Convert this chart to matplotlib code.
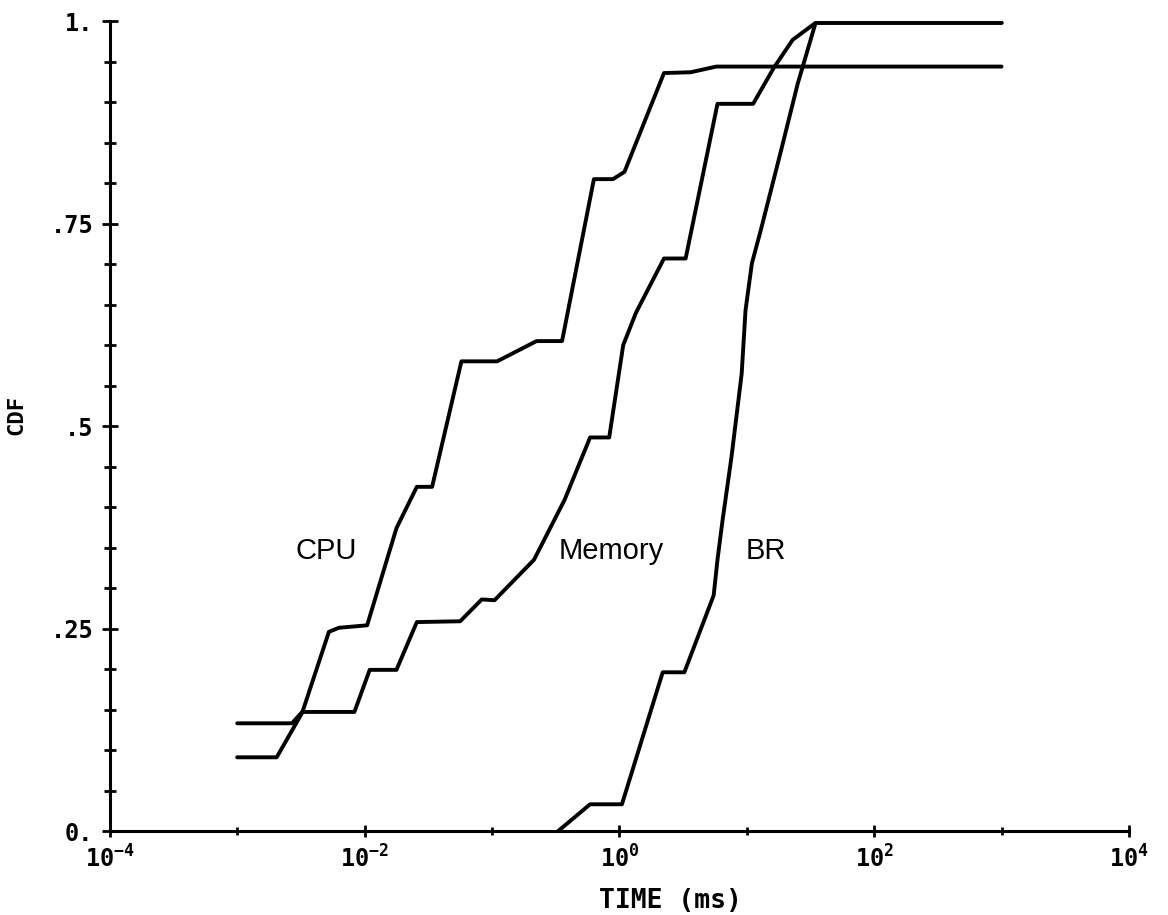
import numpy as np
import matplotlib.pyplot as plt
from matplotlib.ticker import FixedLocator, NullFormatter

plt.rcParams['mathtext.fontset'] = 'custom'
plt.rcParams['mathtext.rm'] = 'DejaVu Sans Mono:bold'
plt.rcParams['mathtext.it'] = 'DejaVu Sans Mono:bold'
plt.rcParams['mathtext.bf'] = 'DejaVu Sans Mono:bold'

# curves: log10(time in ms) and CDF
cpu_log_t = [-3.0, -2.69, -2.49, -2.28, -2.20, -1.98, -1.75, -1.59, -1.47, -1.24,
             -0.96, -0.65, -0.45, -0.20, -0.05, 0.04, 0.35, 0.56, 0.76, 3.0]
cpu_cdf = [0.091, 0.091, 0.146, 0.246, 0.251, 0.254, 0.374, 0.425, 0.425, 0.580,
           0.580, 0.605, 0.605, 0.805, 0.805, 0.814, 0.936, 0.937, 0.944, 0.944]

mem_log_t = [-3.0, -2.57, -2.49, -2.08, -1.96, -1.75, -1.59, -1.25, -1.08, -0.98,
             -0.67, -0.43, -0.23, -0.08, 0.03, 0.13, 0.35, 0.52, 0.77, 1.05, 1.21,
             1.36, 1.54, 3.0]
mem_cdf = [0.133, 0.133, 0.147, 0.147, 0.199, 0.199, 0.258, 0.259, 0.286, 0.285,
           0.335, 0.409, 0.486, 0.486, 0.600, 0.640, 0.707, 0.707, 0.898, 0.898, 0.942,
           0.977, 0.998, 0.998]

br_log_t = [-0.48, -0.23, 0.02, 0.34, 0.51, 0.74, 0.77, 0.81, 0.88, 0.96,
            0.99, 1.04, 1.11, 1.27, 1.40, 1.54, 3.0]
br_cdf = [0.0, 0.033, 0.033, 0.196, 0.196, 0.291, 0.335, 0.384, 0.462, 0.565,
          0.643, 0.701, 0.742, 0.841, 0.923, 0.998, 0.998]

labels = ['CPU', 'Memory', 'BR']
label_log_t = [-2.544, -0.48, 0.994]
label_cdf = [0.336, 0.336, 0.336]

x_major = [1e-4, 1e-2, 1e0, 1e2, 1e4]
x_major_labels = ['$10^{-4}$', '$10^{-2}$', '$10^{0}$', '$10^{2}$', '$10^{4}$']
x_minor = [1e-3, 1e-1, 1e1, 1e3]
y_major = [0, 0.25, 0.5, 0.75, 1.0]
y_major_labels = ['0.', '.25', '.5', '.75', '1.']
y_minor = np.arange(0.05, 1.0, 0.05)

fig = plt.figure(figsize=(11.68, 9.15), dpi=100)
ax = fig.add_axes([0.094, 0.0918, 0.8726, 0.885])

for lt, cdf in [(cpu_log_t, cpu_cdf), (mem_log_t, mem_cdf), (br_log_t, br_cdf)]:
    ax.plot(10.0 ** np.array(lt), cdf, color='black', lw=2.8,
            solid_joinstyle='round', solid_capstyle='round')

for lab, lt, c in zip(labels, label_log_t, label_cdf):
    ax.text(10.0 ** lt, c, lab, fontsize=21, family='Liberation Sans',
            ha='left', va='baseline')

ax.set_xscale('log')
ax.set_xlim(1e-4, 1e4)
ax.set_ylim(0, 1)

ax.spines['top'].set_visible(False)
ax.spines['right'].set_visible(False)
ax.spines['left'].set_linewidth(2.2)
ax.spines['bottom'].set_linewidth(2.2)

ax.xaxis.set_major_locator(FixedLocator(x_major))
ax.set_xticklabels(x_major_labels)
ax.xaxis.set_minor_locator(FixedLocator(x_minor))
ax.xaxis.set_minor_formatter(NullFormatter())
ax.yaxis.set_major_locator(FixedLocator(y_major))
ax.set_yticklabels(y_major_labels)
ax.yaxis.set_minor_locator(FixedLocator(y_minor))

ax.tick_params(axis='both', which='both', direction='inout', width=2)
ax.tick_params(axis='x', which='major', length=9, pad=6, labelsize=17)
ax.tick_params(axis='x', which='minor', length=6)
ax.tick_params(axis='y', which='major', length=12, pad=6, labelsize=17)
ax.tick_params(axis='y', which='minor', length=9)
for t in ax.get_yticklabels():
    t.set_family('DejaVu Sans Mono')
    t.set_weight('bold')

ax.set_xlabel('TIME (ms)', family='DejaVu Sans Mono', weight='bold', fontsize=19)
ax.xaxis.set_label_coords(0.55, -0.07)
ax.set_ylabel('CDF', family='DejaVu Sans Mono', weight='bold', fontsize=16)
ax.yaxis.set_label_coords(-0.082, 0.514)

fig.savefig('out.png', dpi=100, facecolor='white')
